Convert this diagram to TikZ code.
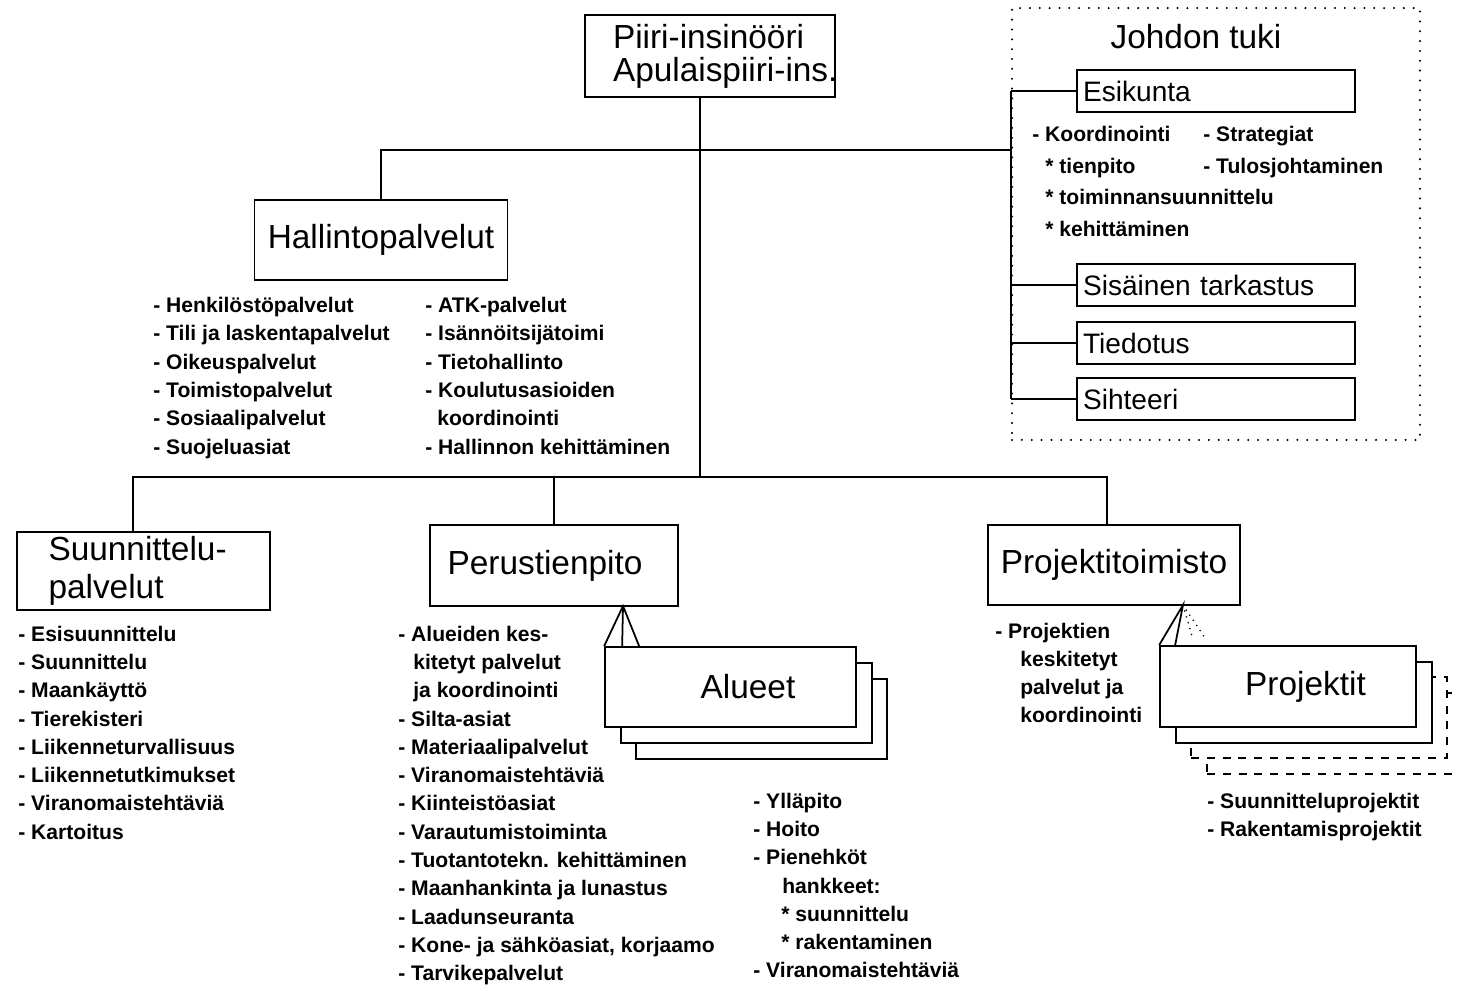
\documentclass[tikz,border=0pt]{standalone}
\usepackage{fontspec}
\setmainfont{Liberation Sans}

\tikzset{
  box/.style={draw, line width=1pt, fill=white, inner sep=0pt, font=\fontsize{19}{19}\selectfont},
  sidebox/.style={draw, line width=1pt, fill=white, minimum height=0.84cm, text width=5.32cm,
    inner xsep=0.12cm, inner ysep=0pt, align=left, font=\fontsize{16}{16}\selectfont},
  ghost/.style={box, dash pattern=on 4.5pt off 4.5pt},
  items/.style={anchor=north west, align=left, inner sep=0pt, font=\bfseries\fontsize{12}{16.1}\selectfont},
  link/.style={line width=1pt},
}

\begin{document}
\begin{tikzpicture}[x=0.02cm, y=-0.02cm]
\clip (0,0) rectangle (1458,991);

% johto
\node[box, text width=3.88cm, inner xsep=0.56cm, minimum height=1.64cm, align=left,
  font=\fontsize{19}{18.7}\selectfont] (chief) at (710,56) {\mbox{Piiri-insinööri}\\\mbox{Apulaispiiri-ins.}};

% johdon tuki
\node[draw, line width=1.3pt, line cap=round, dash pattern=on 0pt off 5.6pt,
  minimum width=8.16cm, minimum height=8.64cm, inner sep=0pt] (tuki) at (1216,224) {};
\node[font=\fontsize{19}{19}\selectfont] (tukititle) at (1196,37) {Johdon tuki};
\node[sidebox] (esikunta) at (1216,91) {Esikunta};
\node[sidebox] (tarkastus) at (1216,285) {Sisäinen tarkastus};
\node[sidebox] (tiedotus) at (1216,343) {Tiedotus};
\node[sidebox] (sihteeri) at (1216,399) {Sihteeri};
\node[items, font=\bfseries\fontsize{12}{18}\selectfont] (esilist) at (1032,126)
  {- Koordinointi\\\hspace*{0.26cm}* tienpito\\\hspace*{0.26cm}* toiminnansuunnittelu\\\hspace*{0.26cm}* kehittäminen};
\node[items, font=\bfseries\fontsize{12}{18}\selectfont] (esilist2) at (1203,126)
  {- Strategiat\\- Tulosjohtaminen};

% hallinto
\node[box, minimum width=5.06cm, minimum height=1.6cm] (hallinto) at (381,240) {Hallintopalvelut};
\node[items] (hallist) at (153,297) {- Henkilöstöpalvelut\\- Tili ja laskentapalvelut\\- Oikeuspalvelut\\- Toimistopalvelut\\- Sosiaalipalvelut\\- Suojeluasiat};
\node[items] (hallist2) at (425,297) {- ATK-palvelut\\- Isännöitsijätoimi\\- Tietohallinto\\- Koulutusasioiden\\\hspace*{0.24cm}koordinointi\\- Hallinnon kehittäminen};

% linjaorganisaatio
\node[box, text width=3.8cm, inner xsep=0.63cm, minimum height=1.56cm, align=left,
  font=\fontsize{19}{21.5}\selectfont] (suunn) at (143.5,571) {Suunnittelu-\\palvelut};
\node[box, minimum width=4.96cm, minimum height=1.62cm] (perus) at (554,565.5) {Perustienpito\hspace*{0.36cm}};
\node[box, minimum width=5.04cm, minimum height=1.6cm] (projtsto) at (1114,565) {Projektitoimisto};

\node[items] (suunnlist) at (18,625.5) {- Esisuunnittelu\\- Suunnittelu\\- Maankäyttö\\- Tierekisteri\\- Liikenneturvallisuus\\- Liikennetutkimukset\\- Viranomaistehtäviä\\- Kartoitus};
\node[items] (peruslist) at (398,625.5) {- Alueiden kes-\\\hspace*{0.3cm}kitetyt palvelut\\\hspace*{0.3cm}ja koordinointi\\- Silta-asiat\\- Materiaalipalvelut\\- Viranomaistehtäviä\\- Kiinteistöasiat\\- Varautumistoiminta\\- Tuotantotekn. kehittäminen\\- Maanhankinta ja lunastus\\- Laadunseuranta\\- Kone- ja sähköasiat, korjaamo\\- Tarvikepalvelut};
\node[items] (projtlist) at (995,622.5) {- Projektien\\\hspace*{0.5cm}keskitetyt\\\hspace*{0.5cm}palvelut ja\\\hspace*{0.5cm}koordinointi};

% alueet
\node[box, minimum width=5.02cm, minimum height=1.6cm] (alueet3) at (761.5,719) {};
\node[box, minimum width=5.02cm, minimum height=1.6cm] (alueet2) at (746.5,703) {};
\node[box, minimum width=5.02cm, minimum height=1.6cm] (alueet) at (730.5,687) {\hspace*{0.7cm}Alueet};
\node[items] (aluelist) at (753,792.5) {- Ylläpito\\- Hoito\\- Pienehköt\\\hspace*{0.58cm}hankkeet:\\\hspace*{0.56cm}* suunnittelu\\\hspace*{0.56cm}* rakentaminen\\- Viranomaistehtäviä};

% projektit
\node[ghost, minimum width=5.12cm, minimum height=1.62cm] (proj4) at (1335,733.5) {};
\node[ghost, minimum width=5.12cm, minimum height=1.62cm] (proj3) at (1319,717.5) {};
\node[box, minimum width=5.12cm, minimum height=1.62cm] (proj2) at (1304,702.5) {};
\node[box, minimum width=5.12cm, minimum height=1.62cm] (projektit) at (1288,686.5) {\hspace*{0.7cm}Projektit};
\node[items] (projlist) at (1207,792.5) {- Suunnitteluprojektit\\- Rakentamisprojektit};

% yhteydet
\coordinate (hub1) at (700,150);
\coordinate (hub2) at (700,477);
\coordinate (bl) at (133,477);
\coordinate (br) at (1107,477);
\draw[link] (chief.south -| hub1) -- (hub2);
\draw[link] (hallinto.north) |- (hub1 -| tuki.west);
\draw[link] (esikunta.west -| tuki.west) -- (sihteeri.west -| tuki.west);
\foreach \n in {esikunta, tarkastus, tiedotus, sihteeri}
  \draw[link] (\n.west -| tuki.west) -- (\n.west);
\draw[link] (bl |- suunn.north) -- (bl) -- (br) -- (br |- projtsto.north);
\draw[link] (perus.north) -- (perus.north |- hub2);

\coordinate (alapex) at (623,606);
\draw[link] (alueet.north west) -- (alapex) -- ([xshift=0.7cm]alueet.north west);
\draw[link] (alapex) -- ([xshift=0.36cm]alueet.north west);

\coordinate (pjapex) at (1183,605);
\coordinate (pjdot1) at (1192,636);
\coordinate (pjdot2) at (1205,638);
\draw[link] (projektit.north west) -- (pjapex) -- ([xshift=0.32cm]projektit.north west);
\draw[link, line cap=round, dash pattern=on 0pt off 3.5pt] (pjapex) -- (pjdot1) (pjapex) -- (pjdot2);
\end{tikzpicture}
\end{document}
